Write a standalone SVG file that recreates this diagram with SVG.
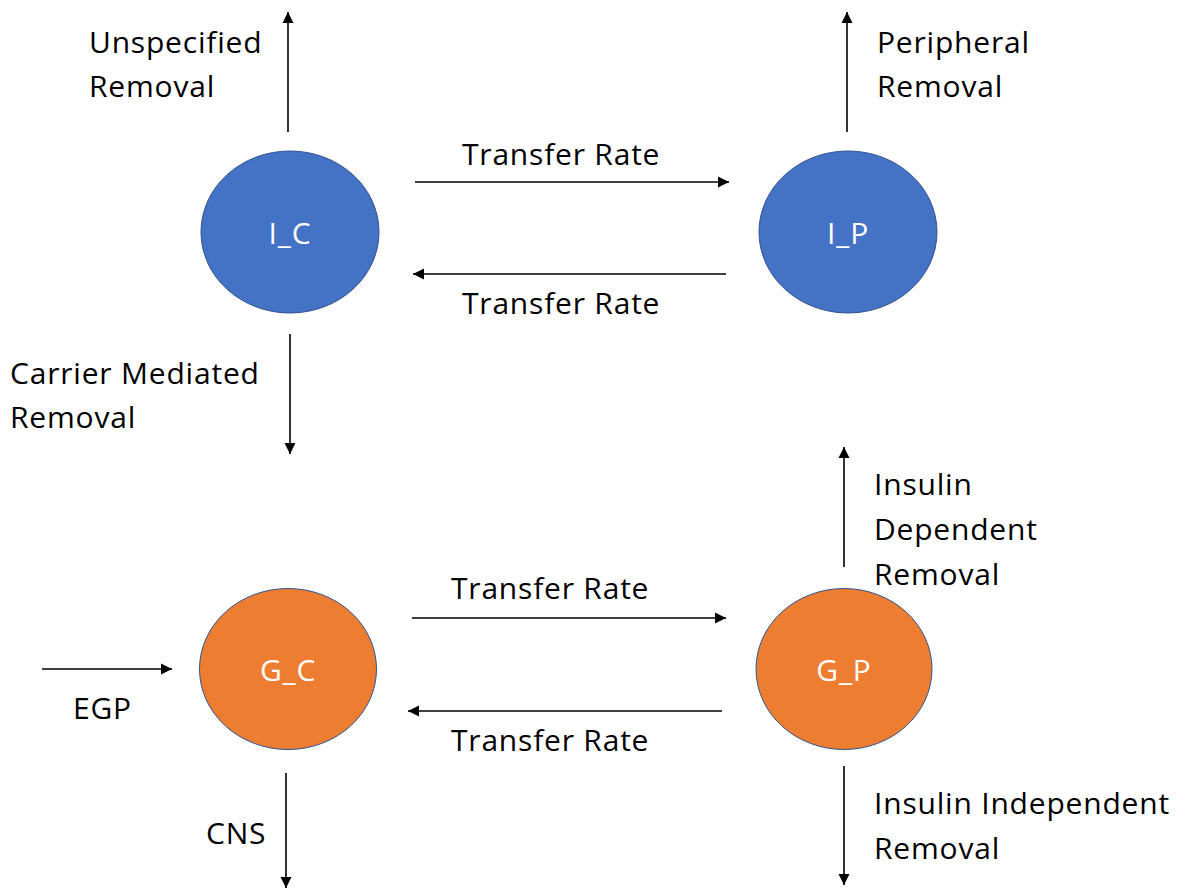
<svg xmlns="http://www.w3.org/2000/svg" width="1192" height="890" viewBox="0 0 1192 890">
<style>
.lbl{font-family:"Open Sans","Liberation Sans",sans-serif;font-size:30px;letter-spacing:0.8px;fill:#000}
.nl{font-family:"Open Sans","Liberation Sans",sans-serif;font-size:30px;letter-spacing:0.8px;fill:#fff;text-anchor:middle}
.blue{fill:#4472C4;stroke:#2F528F;stroke-width:1}
.orange{fill:#ED7D31;stroke:#2F528F;stroke-width:1}
.arr{stroke:#000;stroke-width:1.6;fill:none;marker-end:url(#ah)}
</style>
<defs>
<marker id="ah" viewBox="0 0 10 10" refX="10" refY="5" markerWidth="7" markerHeight="7" orient="auto" markerUnits="strokeWidth">
<path d="M0,0 L10,5 L0,10 z" fill="#000"/>
</marker>
</defs>
<rect width="1192" height="890" fill="#fff"/>
<g id="I_C"><ellipse class="blue" cx="290" cy="232" rx="89" ry="81"/><text class="nl" x="290" y="244">I_C</text></g>
<g id="I_P"><ellipse class="blue" cx="848" cy="232" rx="89" ry="81"/><text class="nl" x="848" y="244">I_P</text></g>
<g id="G_C"><ellipse class="orange" cx="288" cy="669" rx="88.5" ry="80.5"/><text class="nl" x="288" y="681">G_C</text></g>
<g id="G_P"><ellipse class="orange" cx="844" cy="669" rx="88" ry="80.5"/><text class="nl" x="844" y="681">G_P</text></g>
<g id="connectors">
<line class="arr" x1="288" y1="132" x2="288" y2="12"/>
<line class="arr" x1="847" y1="132" x2="847" y2="12"/>
<line class="arr" x1="415" y1="182" x2="729" y2="182"/>
<line class="arr" x1="726" y1="274" x2="413" y2="274"/>
<line class="arr" x1="290" y1="334" x2="290" y2="454"/>
<line class="arr" x1="844" y1="567" x2="844" y2="447"/>
<line class="arr" x1="412" y1="618" x2="726" y2="618"/>
<line class="arr" x1="722" y1="711" x2="408" y2="711"/>
<line class="arr" x1="42" y1="669" x2="172" y2="669"/>
<line class="arr" x1="286" y1="773" x2="286" y2="888"/>
<line class="arr" x1="844" y1="766" x2="844" y2="885"/>
</g>
<g id="labels">
<text class="lbl" x="89" y="53">Unspecified</text>
<text class="lbl" x="89" y="97">Removal</text>
<text class="lbl" x="877" y="53">Peripheral</text>
<text class="lbl" x="877" y="97">Removal</text>
<text class="lbl" x="462" y="165">Transfer Rate</text>
<text class="lbl" x="462" y="314">Transfer Rate</text>
<text class="lbl" x="10" y="384">Carrier Mediated</text>
<text class="lbl" x="10" y="428">Removal</text>
<text class="lbl" x="874" y="495">Insulin</text>
<text class="lbl" x="874" y="540">Dependent</text>
<text class="lbl" x="874" y="585">Removal</text>
<text class="lbl" x="451" y="599">Transfer Rate</text>
<text class="lbl" x="451" y="751">Transfer Rate</text>
<text class="lbl" x="73" y="719">EGP</text>
<text class="lbl" x="206" y="844">CNS</text>
<text class="lbl" x="874" y="814">Insulin Independent</text>
<text class="lbl" x="874" y="859">Removal</text>
</g>
</svg>
